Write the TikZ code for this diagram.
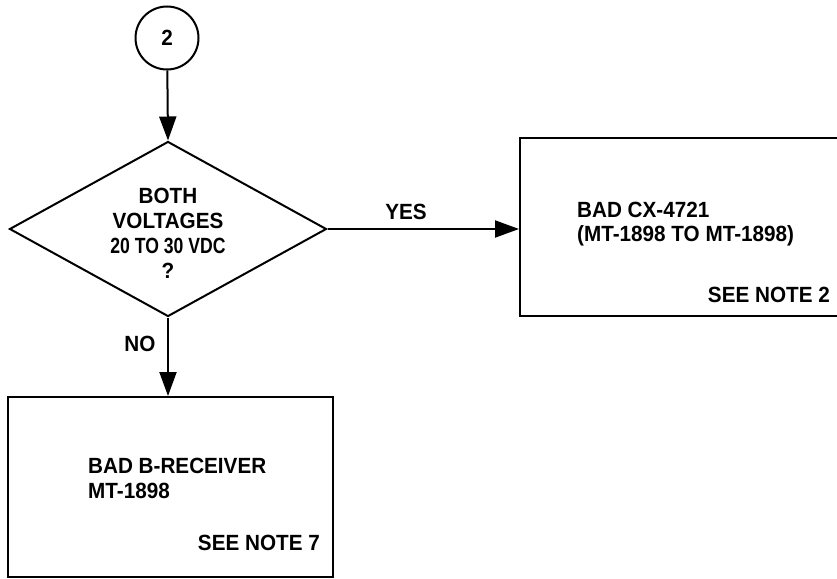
\documentclass[tikz,border=0pt]{standalone}
\usepackage{fontspec}
\setmainfont{Liberation Sans}[FakeStretch=0.94]
\newfontfamily\narrowfam{Liberation Sans}[FakeStretch=0.8]
\usetikzlibrary{arrows.meta,shapes.geometric}
\begin{document}
\begin{tikzpicture}[x=1pt,y=-1pt,
  every node/.style={font=\fontsize{22}{25}\selectfont\bfseries},
  ln/.style={line width=2pt},
  arr/.style={ln,-{Triangle[length=24pt,width=17pt]}},
  boxed/.style={draw,ln,rectangle,inner sep=0pt},
  txt/.style={inner sep=0pt}]
\useasboundingbox (0,0) rectangle (837,578);
\clip (0,0) rectangle (837,578);
\node[draw,ln,circle,minimum size=63pt,inner sep=0pt] (c2) at (167,38) {2};
\node[draw,ln,diamond,minimum width=317pt,minimum height=175pt,inner sep=0pt] (d) at (168,229) {};
\node[txt,align=center] (dt) at (168,233) {BOTH\\VOLTAGES\\{\narrowfam 20 TO 30 VDC}\\?};
\node[boxed,minimum width=360pt,minimum height=178pt] (rb) at (700,227) {};
\node[boxed,minimum width=325pt,minimum height=180pt] (bb) at (170.5,487) {};
\node[txt,anchor=base west] (r1) at (577,217) {BAD CX-4721};
\node[txt,anchor=base west] (r2) at (577,241) {(MT-1898 TO MT-1898)};
\node[txt,anchor=base east] (r3) at (830,302) {SEE NOTE 2};
\node[txt,anchor=base west] (b1) at (88,473) {BAD B-RECEIVER};
\node[txt,anchor=base west] (b2) at (88,498) {MT-1898};
\node[txt,anchor=base east] (b3) at (320,550) {SEE NOTE 7};
\node[txt,anchor=base] (yes) at (406,219) {YES};
\node[txt,anchor=base] (no) at (140,351) {NO};
\draw[arr] (c2) -- (d.north);
\draw[arr] (d.east) -- (d.east -| rb.west);
\draw[arr] (d.south) -- (d.south |- bb.north);
\end{tikzpicture}
\end{document}
